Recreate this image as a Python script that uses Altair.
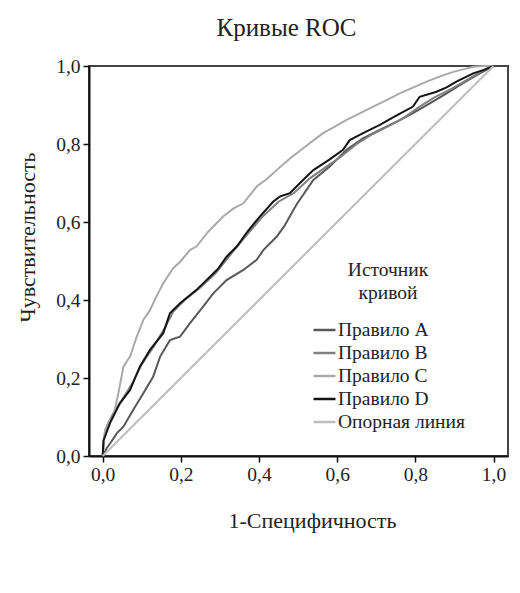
import altair as alt
import pandas as pd

series = ["Правило A", "Правило B", "Правило C", "Правило D", "Опорная линия"]
colors = ["#585858", "#808080", "#a9a9a9", "#141414", "#bdbdbd"]

A_x = [0, 0.01, 0.019, 0.036, 0.053, 0.078, 0.104, 0.129, 0.147, 0.172, 0.198, 0.223, 0.257, 0.283, 0.317, 0.36, 0.394, 0.411, 0.445, 0.465, 0.496, 0.539, 0.581, 0.624, 0.667, 0.709, 0.752, 0.794, 0.837, 0.88, 0.922, 0.965, 1.0]
A_y = [0, 0.02, 0.032, 0.058, 0.075, 0.118, 0.161, 0.203, 0.255, 0.297, 0.306, 0.34, 0.383, 0.417, 0.451, 0.477, 0.503, 0.528, 0.562, 0.59, 0.645, 0.708, 0.742, 0.785, 0.815, 0.836, 0.857, 0.879, 0.904, 0.93, 0.956, 0.981, 1.0]

B_x = [0, 0.004, 0.012, 0.03, 0.05, 0.075, 0.1, 0.13, 0.16, 0.18, 0.21, 0.25, 0.29, 0.33, 0.37, 0.41, 0.45, 0.49, 0.53, 0.57, 0.61, 0.65, 0.69, 0.73, 0.77, 0.81, 0.85, 0.89, 0.93, 0.97, 1.0]
B_y = [0, 0.05, 0.08, 0.115, 0.145, 0.185, 0.235, 0.28, 0.33, 0.37, 0.40, 0.432, 0.47, 0.52, 0.568, 0.615, 0.652, 0.675, 0.712, 0.74, 0.768, 0.80, 0.825, 0.845, 0.867, 0.895, 0.92, 0.94, 0.963, 0.987, 1.0]

C_x = [0, 0.006, 0.015, 0.027, 0.04, 0.053, 0.07, 0.085, 0.104, 0.121, 0.138, 0.155, 0.18, 0.2, 0.223, 0.24, 0.27, 0.308, 0.335, 0.36, 0.394, 0.42, 0.445, 0.479, 0.513, 0.54, 0.564, 0.595, 0.624, 0.66, 0.692, 0.725, 0.76, 0.795, 0.829, 0.86, 0.897, 0.925, 0.948, 0.975, 1.0]
C_y = [0, 0.067, 0.085, 0.10, 0.16, 0.229, 0.255, 0.30, 0.349, 0.374, 0.41, 0.443, 0.481, 0.50, 0.528, 0.537, 0.575, 0.614, 0.635, 0.648, 0.691, 0.71, 0.733, 0.763, 0.789, 0.81, 0.828, 0.845, 0.862, 0.88, 0.896, 0.912, 0.93, 0.945, 0.96, 0.972, 0.985, 0.992, 0.998, 1.0, 1.0]

D_x = [0, 0.002, 0.006, 0.019, 0.044, 0.07, 0.095, 0.121, 0.155, 0.172, 0.198, 0.24, 0.283, 0.296, 0.317, 0.343, 0.37, 0.402, 0.436, 0.453, 0.479, 0.51, 0.539, 0.58, 0.615, 0.632, 0.67, 0.709, 0.75, 0.794, 0.811, 0.854, 0.88, 0.905, 0.948, 0.975, 1.0]
D_y = [0, 0.04, 0.05, 0.085, 0.135, 0.169, 0.229, 0.272, 0.315, 0.366, 0.392, 0.426, 0.468, 0.481, 0.511, 0.537, 0.575, 0.614, 0.652, 0.665, 0.674, 0.705, 0.733, 0.76, 0.785, 0.81, 0.83, 0.849, 0.872, 0.896, 0.921, 0.934, 0.945, 0.96, 0.981, 0.99, 1.0]

REF_x = [0, 1.0]
REF_y = [0, 1.0]

tick_values = [0, 0.2, 0.4, 0.6, 0.8, 1.0]

rows = []
for name, xs, ys in zip(series, [A_x, B_x, C_x, D_x, REF_x], [A_y, B_y, C_y, D_y, REF_y]):
    for i, (x, y) in enumerate(zip(xs, ys)):
        rows.append({"series": name, "fpr": x, "tpr": y, "order": i})
df = pd.DataFrame(rows)

FONT = "Liberation Serif"
lab = "replace(format(datum.value, '.1f'), '.', ',')"

axis_common = dict(
    grid=False, labelExpr=lab, values=tick_values, labelFont=FONT, labelFontSize=19.5,
    labelColor="#222222", titleFont=FONT, titleFontSize=22, titleFontWeight="normal",
    titleColor="#222222", domainColor="#111111", domainWidth=2, tickColor="#111111",
    tickWidth=1.5, tickSize=6, labelPadding=3,
)

chart = alt.Chart(df).mark_line(strokeWidth=2).encode(
    x=alt.X("fpr:Q", scale=alt.Scale(domain=[-0.035, 1.037], nice=False, zero=False),
            axis=alt.Axis(title="1-Специфичность", titleX=223, titleY=71,
                          titleBaseline="alphabetic", **axis_common)),
    y=alt.Y("tpr:Q", scale=alt.Scale(domain=[0, 1], nice=False),
            axis=alt.Axis(title="Чувствительность", titleX=-55, titleY=171,
                          titleBaseline="alphabetic", titleAngle=270, **axis_common)),
    color=alt.Color("series:N", scale=alt.Scale(domain=series, range=colors),
                    legend=alt.Legend(title=["Источник", "кривой"], orient="none",
                                      legendX=223, legendY=195, symbolType="stroke",
                                      symbolSize=484, symbolStrokeWidth=2.5,
                                      titleFont=FONT, titleFontSize=19.5, titleFontWeight="normal",
                                      titleColor="#222222", titleAnchor="middle", titleAlign="center",
                                      titleLineHeight=23, titlePadding=14,
                                      labelFont=FONT, labelFontSize=19.5, labelColor="#222222",
                                      labelOffset=1, rowPadding=1)),
    order="order:Q",
).properties(
    width=419, height=390,
    title=alt.TitleParams("Кривые ROC", font=FONT, fontSize=25, fontWeight="normal",
                          color="#222222", anchor="middle", dx=-12, offset=15),
    padding={"left": 81, "top": 58, "right": 4, "bottom": 100},
    autosize=alt.AutoSizeParams(type="none"),
).configure_view(stroke="#444444", strokeWidth=2)

chart.save("out.html", embed_options={"renderer": "svg", "actions": False})
